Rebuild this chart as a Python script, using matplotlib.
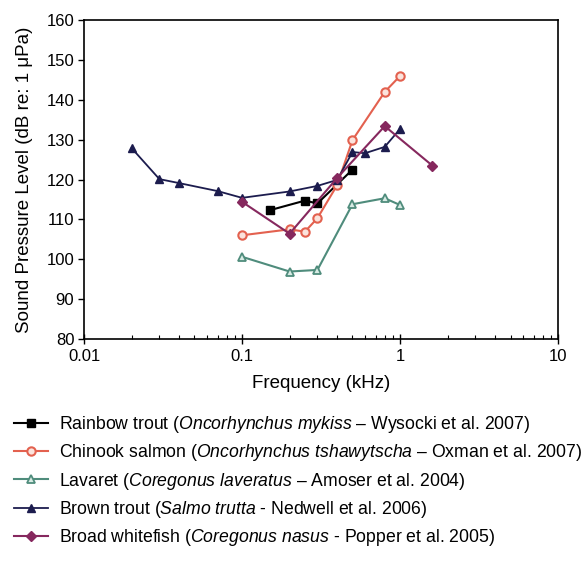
"""
Hearing thresholds of salmonid / coregonid fishes (audiograms).
"""

import matplotlib.pyplot as plt
from matplotlib.ticker import LogLocator, NullFormatter, FixedLocator

plt.rcParams["font.family"] = ["Liberation Sans", "DejaVu Sans"]
plt.rcParams["mathtext.fontset"] = "custom"
plt.rcParams["mathtext.rm"] = "Liberation Sans"
plt.rcParams["mathtext.it"] = "Liberation Sans:italic"

# data (frequency in kHz, level in dB re 1 uPa)
rainbow_f = [0.15, 0.25, 0.3, 0.5]
rainbow_db = [112.3, 114.7, 114.0, 122.5]

chinook_f = [0.1, 0.2, 0.25, 0.3, 0.4, 0.5, 0.8, 1.0]
chinook_db = [106.0, 107.5, 106.9, 110.3, 118.6, 129.9, 142.0, 146.0]

lavaret_f = [0.1, 0.2, 0.3, 0.5, 0.8, 1.0]
lavaret_db = [100.6, 96.9, 97.3, 113.8, 115.3, 113.6]

brown_f = [0.02, 0.03, 0.04, 0.07, 0.1, 0.2, 0.3, 0.4, 0.5, 0.6, 0.8, 1.0]
brown_db = [127.9, 120.1, 119.1, 117.1, 115.4, 117.0, 118.4, 119.9, 126.9, 126.6, 128.2, 132.7]

whitefish_f = [0.1, 0.2, 0.4, 0.8, 1.6]
whitefish_db = [114.4, 106.4, 120.4, 133.4, 123.5]

labels = [
    r"Rainbow trout ($\it{Oncorhynchus\ mykiss}$ – Wysocki et al. 2007)",
    r"Chinook salmon ($\it{Oncorhynchus\ tshawytscha}$ – Oxman et al. 2007)",
    r"Lavaret ($\it{Coregonus\ laveratus}$ – Amoser et al. 2004)",
    r"Brown trout ($\it{Salmo\ trutta}$ - Nedwell et al. 2006)",
    r"Broad whitefish ($\it{Coregonus\ nasus}$ - Popper et al. 2005)",
]

fig = plt.figure(figsize=(5.85, 5.61), dpi=100)
ax = fig.add_axes([0.1436, 0.396, 0.8104, 0.568])

ax.plot(rainbow_f, rainbow_db, color="black", marker="s", markersize=6,
        linewidth=1.5, label=labels[0])
ax.plot(chinook_f, chinook_db, color="#e3614f", marker="o", markersize=6,
        markerfacecolor="#fbe3dc", markeredgewidth=1.5, linewidth=1.5, label=labels[1])
ax.plot(lavaret_f, lavaret_db, color="#4f8c7c", marker="^", markersize=6,
        markerfacecolor="#d8ebe4", markeredgewidth=1.3, linewidth=1.5, label=labels[2])
ax.plot(brown_f, brown_db, color="#1c1c4e", marker="^", markersize=6,
        linewidth=1.3, label=labels[3])
ax.plot(whitefish_f, whitefish_db, color="#86285e", marker="D", markersize=5,
        linewidth=1.5, label=labels[4])

ax.set_xscale("log")
ax.set_xlim(0.01, 10)
ax.set_ylim(80, 160)
ax.yaxis.set_major_locator(FixedLocator(range(80, 161, 10)))
ax.set_xticks([0.01, 0.1, 1, 10])
ax.set_xticklabels(["0.01", "0.1", "1", "10"])
ax.xaxis.set_minor_locator(LogLocator(base=10, subs=range(2, 10)))
ax.xaxis.set_minor_formatter(NullFormatter())

ax.tick_params(axis="y", direction="out", length=4, width=1, labelsize=12, pad=3)
ax.tick_params(axis="x", which="major", direction="inout", length=7, width=1,
               labelsize=12, pad=4)
ax.tick_params(axis="x", which="minor", direction="in", length=3, width=0.8)
for s in ax.spines.values():
    s.set_linewidth(1.2)

ax.set_xlabel("Frequency (kHz)", fontsize=13.5, labelpad=8)
ax.set_ylabel("Sound Pressure Level (dB re: 1 μPa)", fontsize=13.5, labelpad=10)

fig.legend(loc="upper left", bbox_to_anchor=(0.012, 0.275), frameon=False,
           fontsize=12.7, handlelength=1.9, handletextpad=0.65, labelspacing=0.42,
           borderaxespad=0)

fig.savefig("out.png", dpi=100)
